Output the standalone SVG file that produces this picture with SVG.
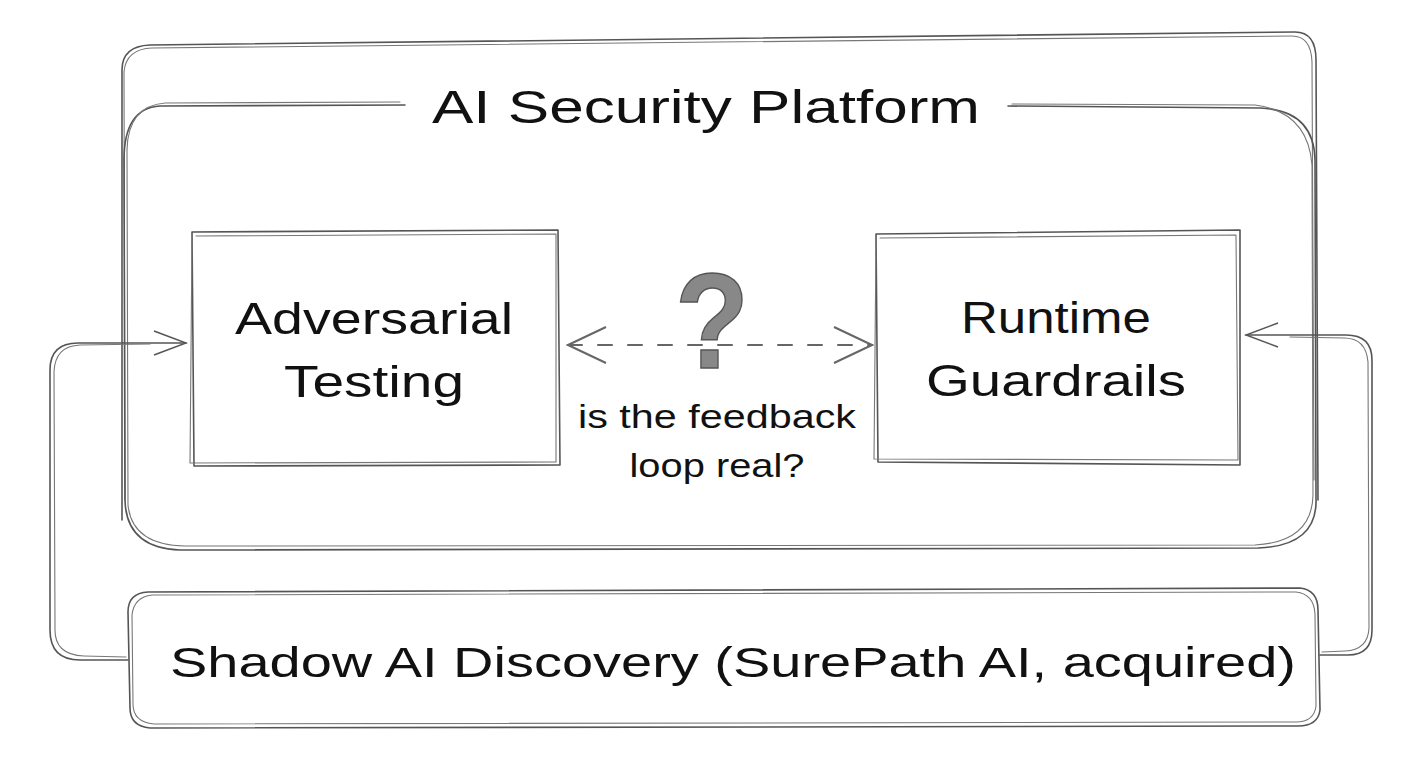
<svg xmlns="http://www.w3.org/2000/svg" width="1408" height="768" viewBox="0 0 1408 768">
<defs>
<style>
.s{fill:none;stroke:#555;stroke-width:1.6;stroke-linecap:round;stroke-linejoin:round}
.s2{fill:none;stroke:#777;stroke-width:1.1;stroke-linecap:round;stroke-linejoin:round}
.d{fill:none;stroke:#666;stroke-width:2;stroke-dasharray:14 16;stroke-linecap:round}
.t{font-family:"Liberation Sans",Arial,sans-serif;fill:#111;text-anchor:middle}
</style>
<marker id="ah" viewBox="0 0 36 30" refX="34" refY="15" markerWidth="36" markerHeight="30" markerUnits="userSpaceOnUse" orient="auto-start-reverse">
<path d="M2,3 L34,15 L2,27" fill="none" stroke="#555" stroke-width="1.6"/>
</marker>
<marker id="ah2" viewBox="0 0 44 44" refX="42" refY="22" markerWidth="44" markerHeight="44" markerUnits="userSpaceOnUse" orient="auto-start-reverse">
<path d="M4,4 L42,22 L4,40" fill="none" stroke="#666" stroke-width="2"/>
</marker>
</defs>
<rect width="1408" height="768" fill="#fff"/>

<g id="platform">
<path class="s" d="M122,520 L122,70 Q122,46 150,45 L1295,32 Q1316,32 1316,60 L1318,500"/>
<path class="s2" d="M125,500 L124,72 Q126,49 152,48 L1292,36 Q1311,36 1312,62 L1314,480"/>
<path class="s" d="M405,105 L160,106 Q124,108 124,160 L125,500 Q126,548 180,550 L1258,548 Q1318,546 1316,498 L1315,160 Q1314,110 1260,108 L1008,106"/>
<path class="s2" d="M400,102 L165,103 Q128,106 127,150 L128,505 Q132,545 185,546 L1255,545 Q1312,542 1313,495 L1312,165 Q1308,112 1255,105 L1012,104"/>
<text class="t" x="706" y="123" font-size="46" textLength="548" lengthAdjust="spacingAndGlyphs">AI Security Platform</text>
</g>

<g id="adversarial">
<path class="s" d="M192,232 L558,230 L560,465 L194,466 Z"/>
<path class="s2" d="M196,236 L556,234 L556,462 L190,463 L192,240"/>
<text class="t" x="374" y="334" font-size="44" textLength="278" lengthAdjust="spacingAndGlyphs">Adversarial</text>
<text class="t" x="374" y="397" font-size="44" textLength="180" lengthAdjust="spacingAndGlyphs">Testing</text>
</g>

<g id="guardrails">
<path class="s" d="M876,234 L1240,230 L1240,465 L878,462 Z"/>
<path class="s2" d="M880,238 L1236,235 L1238,460 L874,459 L876,242"/>
<text class="t" x="1056" y="333" font-size="44" textLength="190" lengthAdjust="spacingAndGlyphs">Runtime</text>
<text class="t" x="1056" y="396" font-size="44" textLength="260" lengthAdjust="spacingAndGlyphs">Guardrails</text>
</g>

<g id="shadow">
<path class="s" d="M148,592 L1300,588 Q1318,590 1318,610 L1320,710 Q1318,726 1298,726 L150,728 Q130,726 130,708 L128,612 Q128,593 148,592 Z"/>
<path class="s2" d="M152,595 L1296,592 Q1314,594 1315,614 L1316,706 Q1314,722 1296,722 L154,724 Q133,722 133,704 L132,615 Q134,597 152,595"/>
<text class="t" x="733" y="677" font-size="42" textLength="1126" lengthAdjust="spacingAndGlyphs">Shadow AI Discovery (SurePath AI, acquired)</text>
</g>

<g id="question">
<text x="712" y="368" font-family="Liberation Sans,Arial,sans-serif" font-size="135" font-weight="bold" fill="#888" stroke="#555" stroke-width="1.5" text-anchor="middle" textLength="74" lengthAdjust="spacingAndGlyphs">?</text>
<text class="t" x="717" y="428" font-size="33" textLength="278" lengthAdjust="spacingAndGlyphs">is the feedback</text>
<text class="t" x="717" y="477" font-size="33" textLength="175" lengthAdjust="spacingAndGlyphs">loop real?</text>
</g>

<g id="connectors">
<path class="d" d="M568,345 L872,345" marker-start="url(#ah2)" marker-end="url(#ah2)"/>
<path class="s" d="M128,660 L80,660 Q50,660 50,630 L50,370 Q50,343 78,343 L186,343" marker-end="url(#ah)"/>
<path class="s2" d="M126,657 L84,656 Q54,655 55,628 L54,372 Q55,346 80,345 L150,344"/>
<path class="s" d="M1320,655 L1348,655 Q1372,655 1372,630 L1372,360 Q1372,335 1346,335 L1246,335" marker-end="url(#ah)"/>
<path class="s2" d="M1322,652 L1345,651 Q1368,650 1369,628 L1368,362 Q1366,338 1344,338 L1290,337"/>
</g>
</svg>
